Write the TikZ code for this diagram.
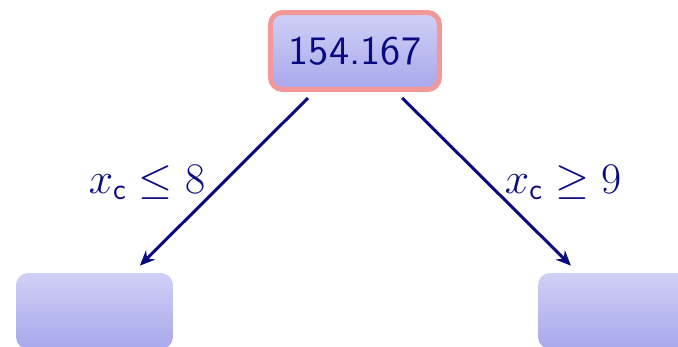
\documentclass[tikz,border=0pt]{standalone}
\usepackage{amsmath}
\usepackage{graphicx}
\usetikzlibrary{arrows.meta}
\definecolor{treeblue}{RGB}{10,10,128}
\definecolor{boxtop}{RGB}{208,208,246}
\definecolor{boxbottom}{RGB}{168,168,236}
\definecolor{rootborder}{RGB}{242,152,152}
\newcommand{\rootvalue}[1]{\scalebox{2.3}{#1}}
\tikzset{
	leaf node/.style={rectangle, rounded corners=0.24cm, top color=boxtop, bottom color=boxbottom, minimum width=3.14cm, minimum height=1.52cm},
	root node/.style={leaf node, draw=rootborder, line width=0.1cm, minimum width=3.38cm, minimum height=1.54cm, text=treeblue, font=\sffamily},
	split edge/.style={draw=treeblue, line width=0.06cm, -{Stealth[length=0.3cm, width=0.26cm]}, shorten <=0.17cm, shorten >=0.2cm},
	split label/.style={text=treeblue, font=\fontsize{23}{28}\selectfont},
}
\begin{document}
\begin{tikzpicture}[x=0.02cm, y=-0.02cm]

	\useasboundingbox (0,0) rectangle (678,347);

	\node[root node] (root) at (355,51) {\rootvalue{154.167}};
	\node[leaf node] (left leaf) at (94.5,311) {};
	\node[leaf node] (right leaf) at (616.5,311) {};

	\draw[split edge] (root) -- node[split label, left=0.22cm]{$x_{\mathsf{c}} \leq 8$} (left leaf);
	\draw[split edge] (root) -- node[split label, right=0.21cm]{$x_{\mathsf{c}} \geq 9$} (right leaf);

\end{tikzpicture}
\end{document}
